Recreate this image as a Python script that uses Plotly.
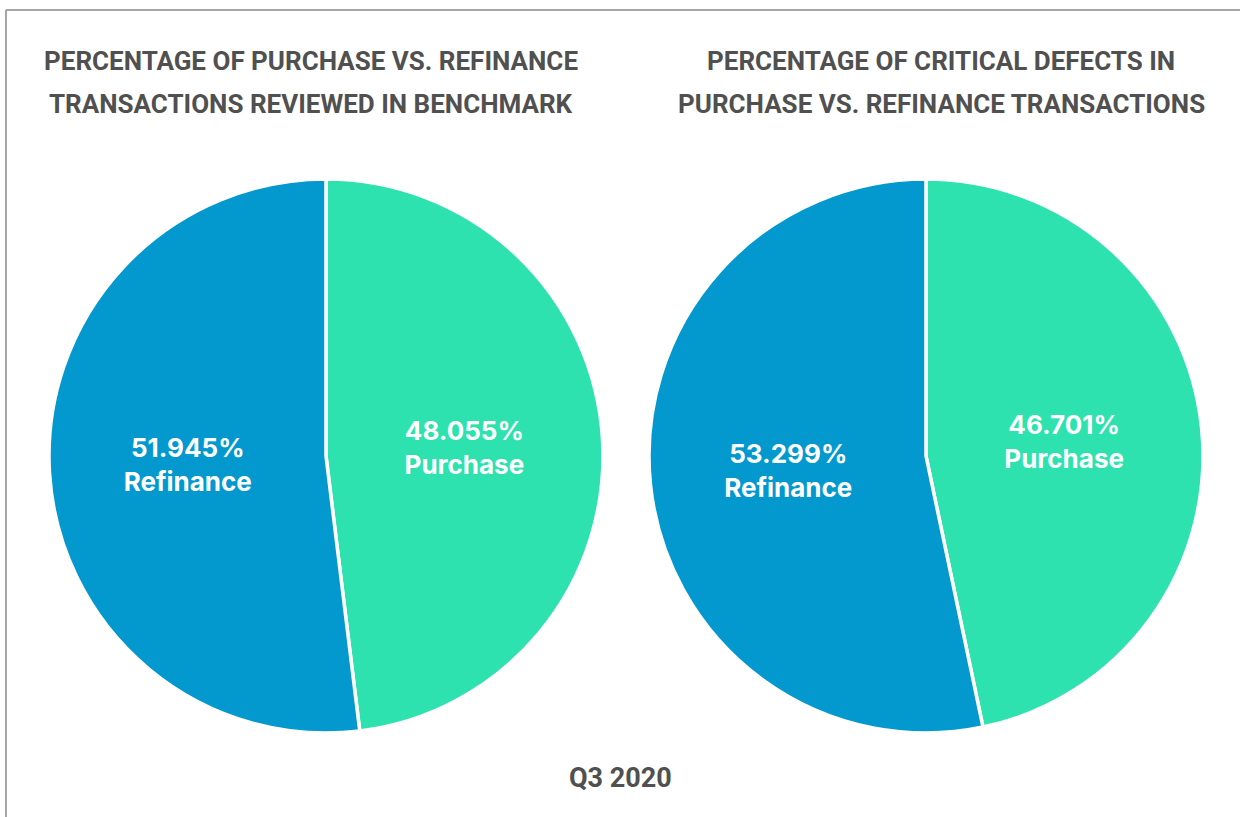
import plotly.graph_objects as go

labels = ["Purchase", "Refinance"]
reviewed = [48.055, 51.945]
defects = [46.701, 53.299]
title_lines = [["PERCENTAGE OF PURCHASE VS. REFINANCE", "TRANSACTIONS REVIEWED IN BENCHMARK"],
               ["PERCENTAGE OF CRITICAL DEFECTS IN", "PURCHASE VS. REFINANCE TRANSACTIONS"]]
footer = "Q3 2020"

W, H = 1240, 817
colors = ["#2DE2AF", "#0399CE"]

def dom(cx, cy, r):
    return dict(x=[(cx - r) / W, (cx + r) / W], y=[1 - (cy + r) / H, 1 - (cy - r) / H])

fig = go.Figure()
for vals, cx in [(reviewed, 326), (defects, 926)]:
    fig.add_trace(go.Pie(
        labels=labels, values=vals, sort=False, direction="clockwise", rotation=0,
        marker=dict(colors=colors, line=dict(color="white", width=3.5)),
        texttemplate="%{percent:.3%}<br>%{label}", textposition="inside",
        insidetextorientation="horizontal",
        textfont=dict(family="Inter, Roboto, sans-serif", size=26, color="white", weight="bold"),
        domain=dom(cx, 456, 277), showlegend=False, hoverinfo="label+percent"))

tfont = dict(family="Roboto, sans-serif", size=26, color="#505050", weight="bold")
for lines, cx in zip(title_lines, [311, 941]):
    for line, cy in zip(lines, [61, 104]):
        fig.add_annotation(text=line, x=cx / W, y=1 - cy / H, xref="paper", yref="paper",
                           xanchor="center", yanchor="middle",
                           showarrow=False, font=tfont, align="center")
fig.add_annotation(text=footer, x=620 / W, y=1 - 778 / H, xref="paper", yref="paper",
                   xanchor="center", yanchor="middle",
                   showarrow=False, font=dict(tfont, size=27), align="center")

fig.add_shape(type="line", xref="paper", yref="paper", x0=6 / W, x1=1.01, y0=1 - 10 / H, y1=1 - 10 / H,
              line=dict(color="#888888", width=1.5))
fig.add_shape(type="line", xref="paper", yref="paper", x0=6 / W, x1=6 / W, y0=1 - 10 / H, y1=-0.01,
              line=dict(color="#888888", width=1.5))

fig.update_layout(width=W, height=H, margin=dict(l=0, r=0, t=0, b=0),
                  paper_bgcolor="white", plot_bgcolor="white")
fig.write_html("out.html", config={"displayModeBar": False},
               post_script="document.body.style.margin='0';document.body.style.overflow='hidden';")
